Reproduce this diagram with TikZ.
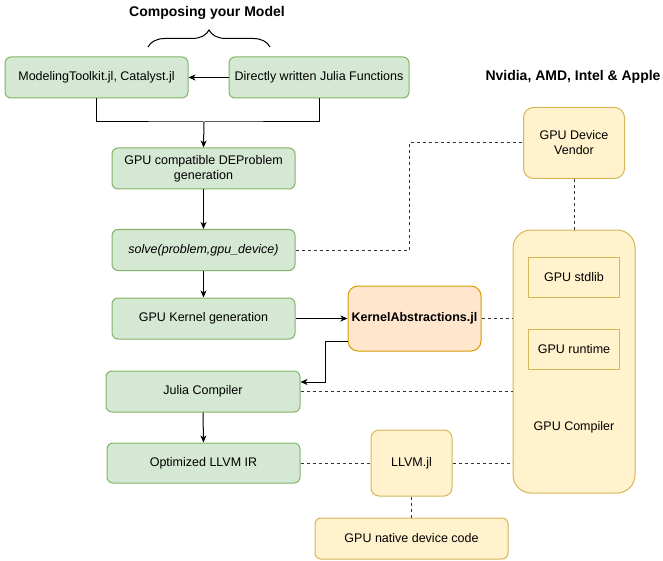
\documentclass[tikz,border=0pt]{standalone}
\usepackage{fontspec}
\setmainfont{Liberation Sans}
\usetikzlibrary{arrows.meta,decorations.pathreplacing}
\definecolor{greenfill}{HTML}{D5E8D4}
\definecolor{greenline}{HTML}{82B366}
\definecolor{yellowfill}{HTML}{FFF2CC}
\definecolor{yellowline}{HTML}{D6B656}
\definecolor{orangefill}{HTML}{FFE6CC}
\definecolor{orangeline}{HTML}{D79B00}
\begin{document}
\begin{tikzpicture}[x=1pt,y=-1pt,font=\fontsize{12.5}{15}\selectfont,line width=1pt]
		\tikzstyle{every node}+=[inner sep=0pt]
		\tikzstyle{greenbox}=[draw=greenline,fill=greenfill,rounded corners=6pt,align=center]
		\tikzstyle{yellowbox}=[draw=yellowline,fill=yellowfill,rounded corners=8pt,align=center]
		\tikzstyle{titletext}=[font=\fontsize{14}{16}\selectfont\bfseries]
		\tikzstyle{arrow}=[draw=black,-{Stealth[length=7pt,width=6pt,inset=2pt]}]
		\tikzstyle{dashline}=[draw=black!80,dash pattern=on 3pt off 3pt]
		\useasboundingbox (0,0) rectangle (663,561);
		% titles
		\node[titletext] (title) at (207,13) {Composing your Model};
		\node[titletext] (vendortitle) at (573,77) {Nvidia, AMD, Intel \& Apple};
		\draw[decorate,decoration={brace,amplitude=17pt}] (148,47) -- (270,47);
		% left column
		\node[greenbox,minimum width=183pt,minimum height=41pt] (mtk) at (96.5,77.5) {ModelingToolkit.jl, Catalyst.jl};
		\node[greenbox,minimum width=180pt,minimum height=41pt] (direct) at (319,77.5) {Directly written Julia Functions};
		\node[greenbox,minimum width=183pt,minimum height=41pt] (prob) at (203.5,168.5) {GPU compatible DEProblem\\generation};
		\node[greenbox,minimum width=183pt,minimum height=41pt,font=\fontsize{12.5}{15}\selectfont\itshape] (solve) at (203.5,250) {solve(problem,gpu\_device)};
		\node[greenbox,minimum width=183pt,minimum height=41pt] (kernel) at (203.5,318.5) {GPU Kernel generation};
		\node[greenbox,minimum width=194pt,minimum height=41pt] (julia) at (203,391.5) {Julia Compiler};
		\node[greenbox,minimum width=193pt,minimum height=40pt] (llvmir) at (203.5,463) {Optimized LLVM IR};
		% middle
		\node[draw=orangeline,fill=orangefill,rounded corners=10pt,minimum width=133pt,minimum height=65pt,font=\fontsize{12.5}{15}\selectfont\bfseries] (ka) at (414.5,318.5) {KernelAbstractions.jl};
		\node[yellowbox,minimum width=81pt,minimum height=66pt] (llvmjl) at (411.5,463) {LLVM.jl};
		\node[yellowbox,minimum width=193pt,minimum height=41pt,rounded corners=6pt] (native) at (411.5,538.5) {GPU native device code};
		% right column
		\node[yellowbox,minimum width=101pt,minimum height=71pt,rounded corners=10pt] (vendor) at (574,143) {GPU Device\\Vendor};
		\node[yellowbox,minimum width=122pt,minimum height=263pt,rounded corners=18pt] (gpucomp) at (574,361.5) {};
		\node[draw=yellowline,fill=yellowfill,minimum width=91pt,minimum height=40pt] (stdlib) at (574,277) {GPU stdlib};
		\node[draw=yellowline,fill=yellowfill,minimum width=91pt,minimum height=40pt] (runtime) at (574,349) {GPU runtime};
		\node (gpucomplabel) at (574,427) {GPU Compiler};
		% solid connectors
		\coordinate (merge) at (204,122);
		\draw[arrow] (direct.west) -- (mtk.east);
		\draw (mtk.south) |- (merge) -| (direct.south);
		\draw[arrow] (merge) -- (prob.north);
		\draw[arrow] (prob.south) -- (solve.north);
		\draw[arrow] (solve.south) -- (kernel.north);
		\draw[arrow] (kernel.east) -- (ka.west);
		\draw[arrow] (ka.west |- 0,341) -- (325,341) -- (325,382) -- (julia.east |- 0,382);
		\draw[arrow] (julia.south) -- (llvmir.north);
		% dashed connectors
		\coordinate (bend) at (409,250);
		\draw[dashline] (solve.east) -- (bend) |- (vendor.west);
		\draw[dashline] (vendor.south) -- (gpucomp.north);
		\draw[dashline] (ka.east) -- (ka.east -| gpucomp.west);
		\draw[dashline] (julia.east) -- (julia.east -| gpucomp.west);
		\draw[dashline] (llvmir.east) -- (llvmjl.west);
		\draw[dashline] (llvmjl.east) -- (llvmjl.east -| gpucomp.west);
		\draw[dashline] (llvmjl.south) -- (native.north);
	\end{tikzpicture}
\end{document}
